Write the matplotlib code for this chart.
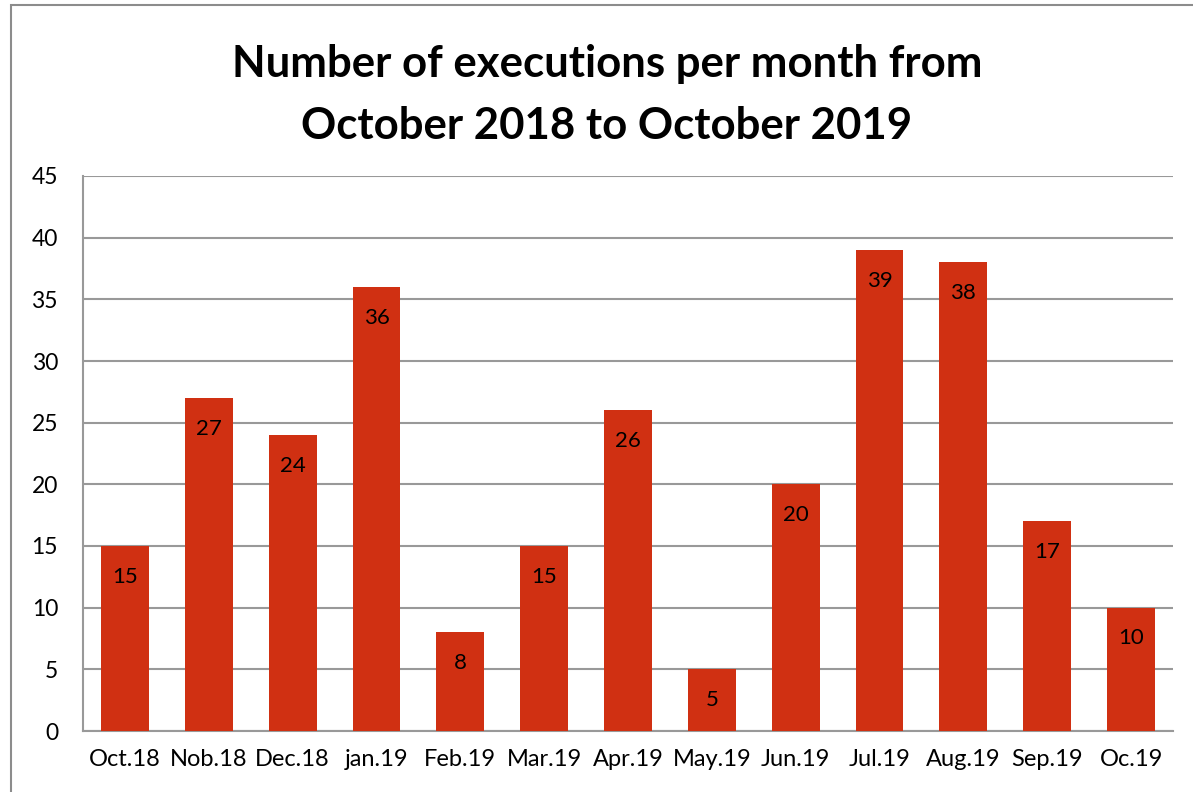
import numpy as np
import matplotlib.pyplot as plt
from matplotlib.patches import Rectangle

plt.rcParams["font.family"] = ["Lato", "DejaVu Sans"]

months = ["Oct.18", "Nob.18", "Dec.18", "jan.19", "Feb.19", "Mar.19", "Apr.19",
          "May.19", "Jun.19", "Jul.19", "Aug.19", "Sep.19", "Oc.19"]
executions = [15, 27, 24, 36, 8, 15, 26, 5, 20, 39, 38, 17, 10]
y_ticks = [0, 5, 10, 15, 20, 25, 30, 35, 40, 45]

BAR_COLOR = "#D03012"
GRID_COLOR = "#999999"

fig = plt.figure(figsize=(11.93, 7.92), dpi=100)
ax = fig.add_axes([83 / 1193, 61 / 792, 1090 / 1193, 555 / 792])

# outer chart frame (partly cut off on the right and bottom)
fig.patches.append(Rectangle((11 / 1193, -0.05), 1.2, (787 / 792) + 0.05,
                             transform=fig.transFigure, fill=False,
                             edgecolor="#8c8c8c", linewidth=1.5))

x = np.arange(len(months))
bars = ax.bar(x, executions, width=0.57, color=BAR_COLOR, zorder=3)

for xi, v in zip(x, executions):
    ax.annotate(str(v), (xi, v), xytext=(0, -22), textcoords="offset points",
                ha="center", va="center", fontsize=16, color="black", zorder=4)

ax.set_xlim(-0.5, len(months) - 0.5)
ax.set_ylim(0, 45)
ax.set_yticks(y_ticks)
ax.set_xticks(x)
ax.set_xticklabels(months)
ax.tick_params(axis="both", length=0)
ax.tick_params(axis="y", pad=18, labelsize=16.5)
ax.tick_params(axis="x", pad=13, labelsize=17)

ax.grid(axis="y", color=GRID_COLOR, linewidth=1.5, zorder=0)
for side in ["top", "right"]:
    ax.spines[side].set_visible(False)
for side in ["left", "bottom"]:
    ax.spines[side].set_color(GRID_COLOR)
    ax.spines[side].set_linewidth(1.5)

fig.text(607 / 1193, 1 - 95 / 792,
         "Number of executions per month from\nOctober 2018 to October 2019",
         ha="center", va="center", fontsize=31.5, fontweight="bold",
         linespacing=1.65)

fig.savefig("out.png", dpi=100)
